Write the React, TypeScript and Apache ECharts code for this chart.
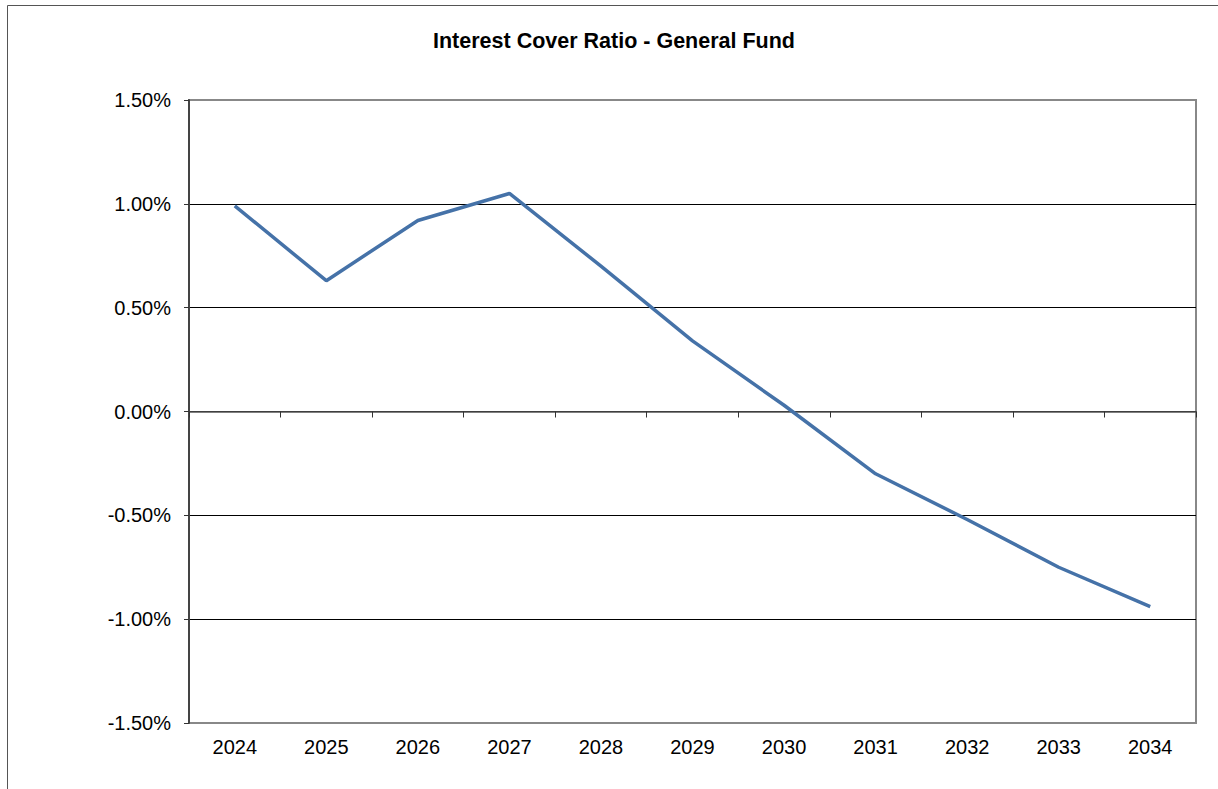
import React, { useEffect, useRef } from "react";
import * as echarts from "echarts";

// Fiscal years shown along the category axis
const years: string[] = ["2024", "2025", "2026", "2027", "2028", "2029", "2030", "2031", "2032", "2033", "2034"];

// Interest cover ratio for the General Fund, in percent
const ratioPct: number[] = [0.99, 0.63, 0.92, 1.05, 0.70, 0.34, 0.03, -0.30, -0.52, -0.75, -0.94];

const chartTitle = "Interest Cover Ratio - General Fund";

const FONT = 'Arial, "Liberation Sans", sans-serif';

export default function App() {
  const ref = useRef<HTMLDivElement>(null);

  useEffect(() => {
    if (!ref.current) return;
    const chart = echarts.init(ref.current, undefined, { renderer: "svg" });
    chart.setOption({
      animation: false,
      backgroundColor: "#ffffff",
      title: {
        text: chartTitle,
        left: 609,
        top: 25,
        padding: 5,
        textAlign: "center",
        textStyle: { fontFamily: FONT, fontSize: 21.5, fontWeight: "bold", color: "#000" },
      },
      graphic: [
        {
          type: "rect",
          shape: { x: 7.5, y: 5.5, width: 1300, height: 900 },
          style: { fill: "none", stroke: "#555", lineWidth: 1 },
          silent: true,
        },
      ],
      grid: {
        left: 189,
        top: 100,
        right: 22,
        bottom: 66,
        show: true,
        borderColor: "#888",
        borderWidth: 2,
        backgroundColor: "transparent",
      },
      xAxis: [
        {
          type: "category",
          data: years,
          position: "bottom",
          boundaryGap: true,
          axisLine: { show: false, onZero: false },
          axisTick: { show: false },
          axisLabel: { margin: 14, fontFamily: FONT, fontSize: 20, color: "#000" },
          splitLine: { show: false },
        },
        {
          type: "category",
          data: years,
          position: "top",
          boundaryGap: true,
          axisLine: { show: true, onZero: true, lineStyle: { color: "#555", width: 1.5 } },
          axisTick: { show: true, inside: true, length: 6, lineStyle: { color: "#333", width: 1 } },
          axisLabel: { show: false },
          splitLine: { show: false },
        },
      ],
      yAxis: {
        type: "value",
        min: -1.5,
        max: 1.5,
        interval: 0.5,
        axisLine: { show: true, lineStyle: { color: "#444", width: 2 } },
        axisTick: { show: true, length: 5, lineStyle: { color: "#333", width: 1 } },
        axisLabel: {
          margin: 18,
          fontFamily: FONT,
          fontSize: 20,
          color: "#000",
          formatter: (v: number) => v.toFixed(2) + "%",
        },
        splitLine: { show: true, showMinLine: false, showMaxLine: false, lineStyle: { color: "#000", width: 1 } },
      },
      series: [
        {
          type: "line",
          xAxisIndex: 0,
          data: ratioPct,
          showSymbol: false,
          symbol: "none",
          lineStyle: { color: "#4572A8", width: 3.5 },
          itemStyle: { color: "#4572A8" },
          z: 5,
        },
      ],
    });
    return () => chart.dispose();
  }, []);

  return (
    <div
      ref={ref}
      style={{ position: "absolute", left: 0, top: 0, width: 1218, height: 789 }}
    />
  );
}
